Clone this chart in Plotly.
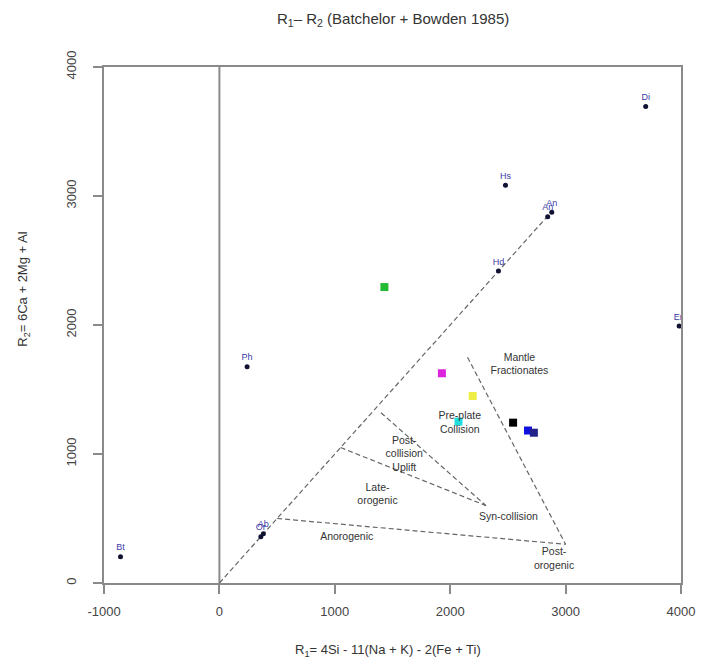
import plotly.graph_objects as go

# Mineral end-members (R1, R2)
min_names = ["Bt", "Or", "Ab", "Ph", "Hd", "Hs", "An", "An", "Di", "En"]
min_r1 = [-857, 359, 381, 240, 2418, 2479, 2845, 2880, 3694, 3984]
min_r2 = [204, 359, 381, 1677, 2418, 3083, 2840, 2875, 3694, 1992]

# Samples
smp_r1 = [1430, 1928, 2195, 2072, 2545, 2674, 2725]
smp_r2 = [2294, 1626, 1450, 1251, 1243, 1182, 1165]
smp_col = ["#22bb33", "#dd22dd", "#eeee44", "#22dddd", "#000000", "#1111dd", "#222288"]

# Field boundaries (dashed)
bounds = [
    ([0, 2870], [0, 2870]),
    ([500, 3000], [500, 300]),
    ([2150, 3000], [1750, 300]),
    ([1050, 2310], [1050, 600]),
    ([1400, 2310], [1320, 600]),
]

# Field labels
fld_text = ["Mantle<br>Fractionates", "Pre-plate<br>Collision", "Post-<br>collision<br>Uplift",
            "Late-<br>orogenic", "Syn-collision", "Post-<br>orogenic", "Anorogenic"]
fld_r1 = [2600, 2083, 1602, 1370, 2504, 2900, 1103]
fld_r2 = [1690, 1237, 994, 684, 506, 185, 350]

# Axis ticks
x_ticks = [-1000, 0, 1000, 2000, 3000, 4000]
x_ticklabels = ["-1000", "0", "1000", "2000", "3000", "4000"]
y_ticks = [0, 1000, 2000, 3000, 4000]

fig = go.Figure()

fig.add_shape(type="line", x0=0, x1=0, y0=0, y1=4000, xref="x", yref="y",
              line=dict(color="#8a8a8a", width=2), layer="below")

for bx, by in bounds:
    fig.add_trace(go.Scatter(x=bx, y=by, mode="lines",
                             line=dict(color="#666666", width=1.2, dash="5px,3px"),
                             hoverinfo="skip", showlegend=False))

fig.add_trace(go.Scatter(x=smp_r1, y=smp_r2, mode="markers",
                         marker=dict(symbol="square", size=8, color=smp_col),
                         showlegend=False))

fig.add_trace(go.Scatter(x=min_r1, y=min_r2, mode="markers+text", text=min_names,
                         textposition="top center",
                         textfont=dict(size=9, color="#3a3aa8", family="Liberation Sans"),
                         marker=dict(size=5, color="#111133"),
                         showlegend=False))

fig.add_trace(go.Scatter(x=fld_r1, y=fld_r2, mode="text", text=fld_text,
                         textfont=dict(size=10.5, color="#333333", family="Liberation Sans"),
                         showlegend=False, hoverinfo="skip"))

axis_common = dict(showgrid=False, zeroline=False, showline=True, mirror=True,
                   linecolor="#8a8a8a", linewidth=2, ticks="outside", ticklen=9,
                   tickcolor="#8a8a8a", tickwidth=2,
                   tickfont=dict(size=13, color="#444444", family="Liberation Sans"))

fig.update_xaxes(range=[-1000, 4000], tickvals=x_ticks, ticktext=x_ticklabels,
                 ticklabelstandoff=6, **axis_common)
fig.update_yaxes(range=[0, 4000], tickvals=y_ticks, tickangle=-90,
                 ticklabelstandoff=12, **axis_common)

fig.update_layout(
    width=707, height=671,
    margin=dict(l=104, r=21, t=67, b=88),
    plot_bgcolor="white", paper_bgcolor="white",
    font=dict(family="Liberation Sans", color="#333333"),
    annotations=[
        dict(text="R<sub>1</sub>– R<sub>2</sub> (Batchelor + Bowden 1985)", x=0.5, y=1.0,
             yanchor="bottom", yshift=36,
             xref="paper", yref="paper", showarrow=False, font=dict(size=15, color="#333333")),
        dict(text="R<sub>1</sub>= 4Si - 11(Na + K) - 2(Fe + Ti)", xref="paper", yref="paper",
             x=0.493, y=-0.13, yanchor="middle", showarrow=False,
             font=dict(size=13, color="#333333")),
        dict(text="R<sub>2</sub>= 6Ca + 2Mg + Al", xref="paper", yref="paper",
             x=-0.139, y=0.57, xanchor="center", yanchor="middle", textangle=-90,
             showarrow=False, font=dict(size=13, color="#333333")),
    ],
)

fig.write_html("out.html")
